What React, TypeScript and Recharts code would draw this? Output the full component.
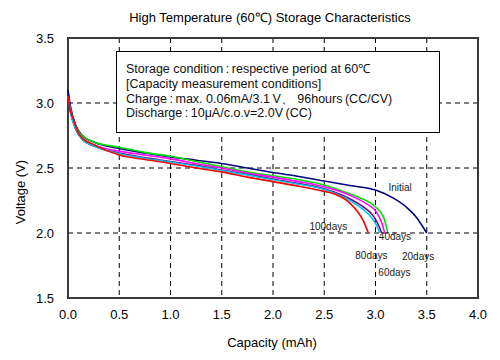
import { LineChart, Line, XAxis, YAxis, CartesianGrid, ReferenceArea, ReferenceDot } from "recharts";

const xTicks = [0, 0.5, 1.0, 1.5, 2.0, 2.5, 3.0, 3.5, 4.0];
const yTicks = [1.5, 2.0, 2.5, 3.0, 3.5];

const initial = [
  [0, 3.1], [0.03, 2.95], [0.08, 2.82], [0.14, 2.75], [0.25, 2.7], [0.5, 2.65], [0.75, 2.615],
  [1.0, 2.585], [1.25, 2.56], [1.5, 2.535], [1.75, 2.5], [2.0, 2.465], [2.25, 2.435], [2.5, 2.4],
  [2.75, 2.365], [3.0, 2.33], [3.17, 2.27], [3.3, 2.2], [3.4, 2.12], [3.46, 2.05], [3.5, 2.0],
];
const days20 = [
  [0, 3.05], [0.03, 2.93], [0.08, 2.81], [0.14, 2.75], [0.25, 2.7], [0.5, 2.66], [0.75, 2.62],
  [1.0, 2.59], [1.25, 2.55], [1.5, 2.51], [1.75, 2.47], [2.0, 2.44], [2.25, 2.41], [2.5, 2.37],
  [2.75, 2.3], [2.85, 2.27], [3.0, 2.2], [3.08, 2.12], [3.12, 2.0],
];
const days40 = [
  [0, 3.05], [0.03, 2.92], [0.08, 2.8], [0.14, 2.73], [0.25, 2.68], [0.5, 2.63], [0.75, 2.6],
  [1.0, 2.57], [1.25, 2.535], [1.5, 2.5], [1.75, 2.46], [2.0, 2.43], [2.25, 2.395], [2.5, 2.355],
  [2.75, 2.29], [2.9, 2.23], [3.01, 2.16], [3.06, 2.08], [3.09, 2.0],
];
const days60 = [
  [0, 3.05], [0.03, 2.91], [0.08, 2.79], [0.14, 2.72], [0.25, 2.67], [0.5, 2.615], [0.75, 2.58],
  [1.0, 2.55], [1.25, 2.52], [1.5, 2.485], [1.75, 2.45], [2.0, 2.415], [2.25, 2.38], [2.5, 2.34],
  [2.78, 2.25], [2.9, 2.19], [2.98, 2.13], [3.03, 2.06], [3.06, 2.0],
];
const days80 = [
  [0, 3.05], [0.03, 2.91], [0.08, 2.79], [0.14, 2.72], [0.25, 2.67], [0.5, 2.61], [0.75, 2.575],
  [1.0, 2.545], [1.25, 2.515], [1.5, 2.48], [1.75, 2.445], [2.0, 2.41], [2.25, 2.375], [2.5, 2.335],
  [2.75, 2.25], [2.88, 2.18], [2.96, 2.12], [3.01, 2.06], [3.04, 2.0],
];
const days100 = [
  [0, 3.05], [0.02, 2.95], [0.05, 2.88], [0.1, 2.77], [0.14, 2.73], [0.25, 2.68], [0.5, 2.6],
  [0.75, 2.565], [1.0, 2.535], [1.25, 2.5], [1.5, 2.47], [1.75, 2.43], [2.0, 2.395], [2.25, 2.36],
  [2.5, 2.32], [2.6, 2.3], [2.75, 2.23], [2.83, 2.16], [2.89, 2.08], [2.93, 2.0],
];

const series = [
  { name: "Initial", points: initial, color: "#000080" },
  { name: "20days", points: days20, color: "#00e000" },
  { name: "40days", points: days40, color: "#ff00ff" },
  { name: "60days", points: days60, color: "#800080" },
  { name: "80days", points: days80, color: "#00c8e8" },
  { name: "100days", points: days100, color: "#ff0000" },
];

const curveLabels = [
  { text: "Initial", x: 3.24, y: 2.354 },
  { text: "100days", x: 2.54, y: 2.054 },
  { text: "40days", x: 3.19, y: 1.977 },
  { text: "80days", x: 2.96, y: 1.831 },
  { text: "20days", x: 3.416, y: 1.823 },
  { text: "60days", x: 3.185, y: 1.7 },
];

const noteLines = [
  "Storage condition\u2009:\u2009respective period at 60\u2103",
  "[Capacity measurement conditions]",
  "Charge\u2009:\u2009max. 0.06mA/3.1\u2009V\u3001 96hours\u2009(CC/CV)",
  "Discharge\u2009:\u200910\u03bcA/c.o.v=2.0V\u2009(CC)",
];

const font = "Arial, 'Liberation Sans', sans-serif";

const yLabel = (props: any) => {
  const vb = props.viewBox;
  const cx = 20;
  const cy = vb.y + vb.height / 2 + 24;
  return (
    <text x={cx} y={cy} transform={`rotate(-90 ${cx} ${cy})`} textAnchor="middle" dominantBaseline="central" fill="#000" fontSize={13} fontFamily={font}>
      Voltage (V)
    </text>
  );
};

const xLabel = (props: any) => {
  const vb = props.viewBox;
  return (
    <text x={vb.x + vb.width / 2 - 1} y={342} textAnchor="middle" dominantBaseline="central" fill="#000" fontSize={13} fontFamily={font}>
      Capacity (mAh)
    </text>
  );
};

export default function App() {
  return (
    <div style={{ position: "absolute", left: 0, top: 0, width: 500, height: 360, background: "#fff", fontFamily: font }}>
      <style>{"body{margin:0}"}</style>
      <div style={{ position: "absolute", left: 0, top: 8, width: 540, textAlign: "center", fontSize: 13, color: "#000" }}>
        High Temperature (60℃) Storage Characteristics
      </div>
      <LineChart width={500} height={360} margin={{ top: 38, right: 22, bottom: 32, left: 0 }}>
        <CartesianGrid stroke="#000" strokeDasharray="5 4" strokeWidth={1} />
        <XAxis
          type="number"
          dataKey="x"
          domain={[0, 4]}
          ticks={xTicks}
          height={30}
          tickFormatter={(v: number) => v.toFixed(1)}
          tickLine={false}
          tickSize={0}
          tickMargin={12}
          axisLine={false}
          tick={{ fill: "#000", fontSize: 13, fontFamily: font }}
          label={{ content: xLabel }}
        />
        <YAxis
          type="number"
          dataKey="y"
          domain={[1.5, 3.5]}
          ticks={yTicks}
          width={68}
          tickFormatter={(v: number) => v.toFixed(1)}
          tickLine={false}
          tickSize={0}
          tickMargin={14}
          axisLine={false}
          tick={{ fill: "#000", fontSize: 13, fontFamily: font }}
          label={{ content: yLabel }}
        />
        <ReferenceArea x1={0} x2={4} y1={1.5} y2={3.5} fill="none" stroke="#3a3a3a" strokeWidth={2} ifOverflow="visible" />
        {series.map((s) => (
          <Line
            key={s.name}
            data={s.points.map(([x, y]) => ({ x, y }))}
            dataKey="y"
            type="monotone"
            stroke={s.color}
            strokeWidth={1.6}
            dot={false}
            isAnimationActive={false}
          />
        ))}
        {curveLabels.map((l) => (
          <ReferenceDot
            key={l.text}
            x={l.x}
            y={l.y}
            r={0}
            fill="none"
            stroke="none"
            ifOverflow="visible"
            label={{ value: l.text, position: "center", fill: "#222", fontSize: 10, fontFamily: font }}
          />
        ))}
      </LineChart>
      <div
        style={{
          position: "absolute", left: 116, top: 51, width: 324, height: 82,
          border: "1.5px solid #000", background: "#fff", boxSizing: "border-box",
          padding: "10px 0 0 9px", fontSize: 12.5, lineHeight: "14.8px", color: "#111",
        }}
      >
        {noteLines.map((t) => (
          <div key={t} style={{ whiteSpace: "nowrap" }}>{t}</div>
        ))}
      </div>
    </div>
  );
}
